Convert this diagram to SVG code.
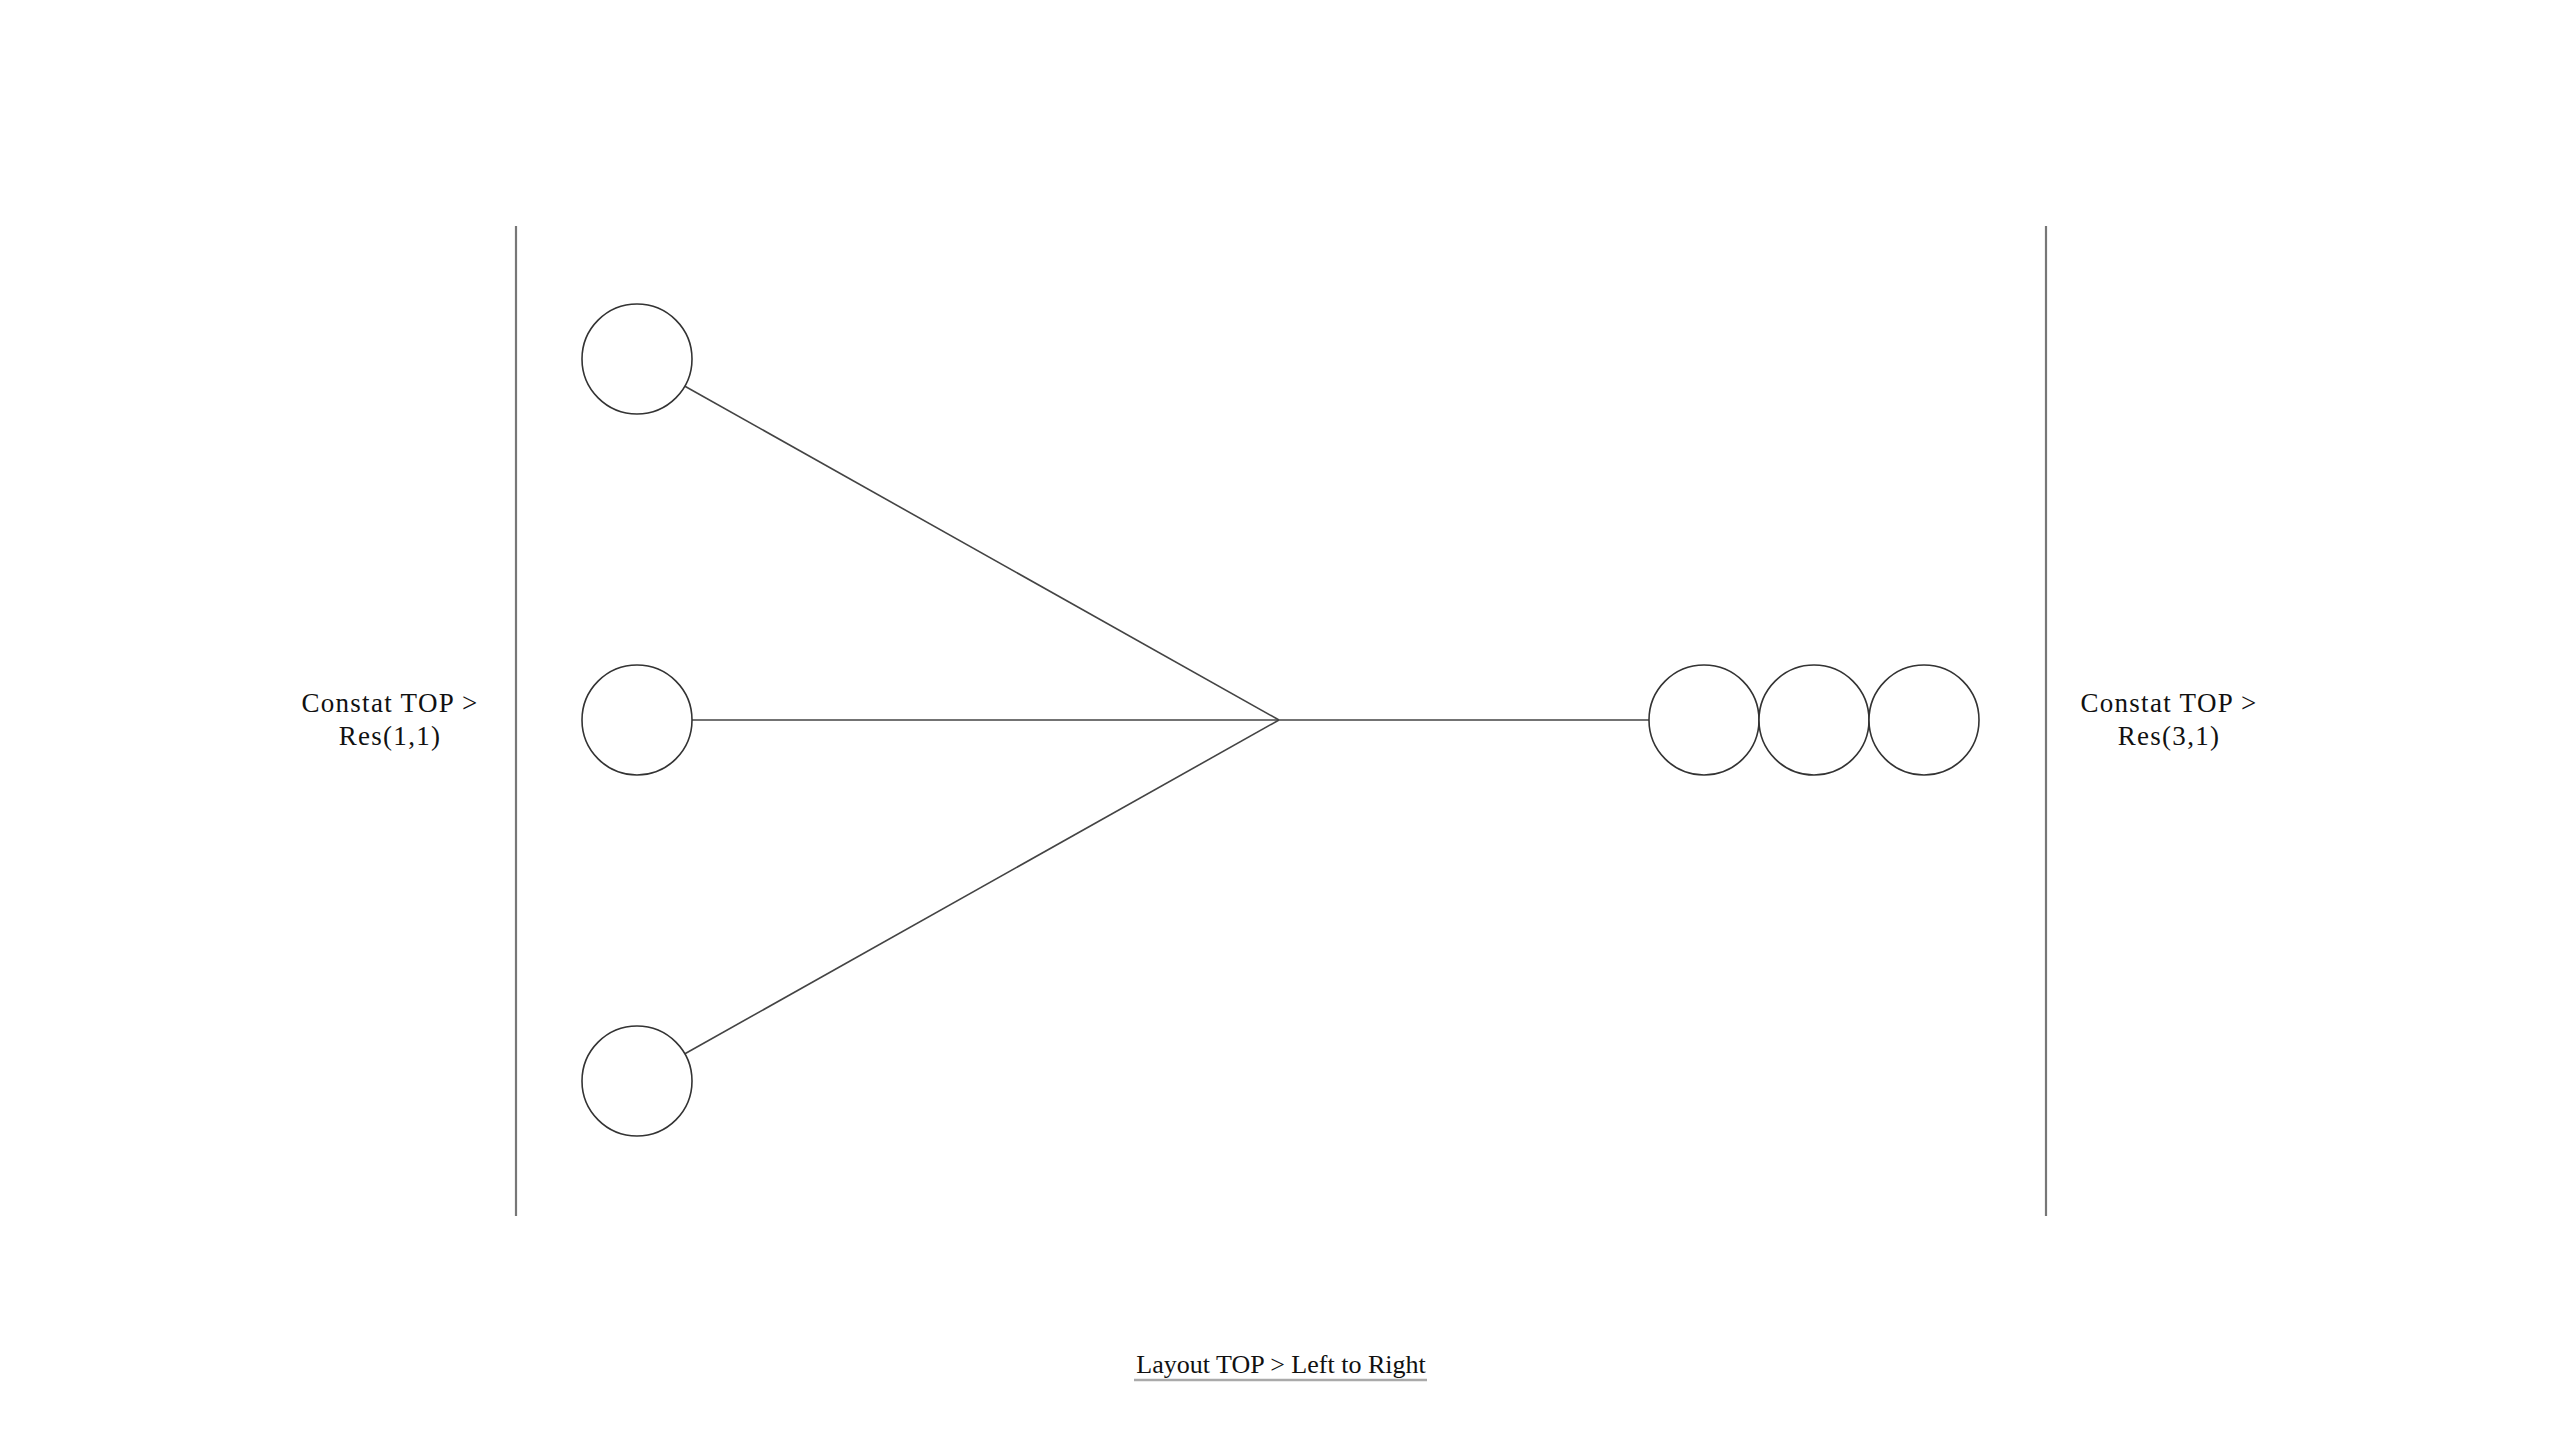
<svg xmlns="http://www.w3.org/2000/svg" width="2560" height="1440" viewBox="0 0 2560 1440">
<style>
.node{fill:#fff;stroke:#333;stroke-width:1.6}
.edge{stroke:#444;stroke-width:1.6;fill:none}
.bound{stroke:#777;stroke-width:2.2}
.lbl{font-family:"Liberation Serif",serif;font-size:27px;fill:#111;text-anchor:middle;letter-spacing:1.3px}
</style>
<rect width="2560" height="1440" fill="#fff"/>
<g id="boundaries">
<line class="bound" x1="516" y1="226" x2="516" y2="1216"/>
<line class="bound" x1="2046" y1="226" x2="2046" y2="1216"/>
</g>
<g id="connectors">
<line class="edge" x1="684.5" y1="386" x2="1279" y2="720"/>
<line class="edge" x1="692" y1="720" x2="1279" y2="720"/>
<line class="edge" x1="684.5" y1="1054" x2="1279" y2="720"/>
<line class="edge" x1="1279" y1="720" x2="1649" y2="720"/>
</g>
<g id="node-in-1"><circle class="node" cx="637" cy="359" r="55"/></g>
<g id="node-in-2"><circle class="node" cx="637" cy="720" r="55"/></g>
<g id="node-in-3"><circle class="node" cx="637" cy="1081" r="55"/></g>
<g id="node-out-1"><circle class="node" cx="1704" cy="720" r="55"/></g>
<g id="node-out-2"><circle class="node" cx="1814" cy="720" r="55"/></g>
<g id="node-out-3"><circle class="node" cx="1924" cy="720" r="55"/></g>
<g id="label-left">
<text class="lbl" x="390" y="712">Constat TOP &gt;</text>
<text class="lbl" x="390" y="745">Res(1,1)</text>
</g>
<g id="label-right">
<text class="lbl" x="2169" y="712">Constat TOP &gt;</text>
<text class="lbl" x="2169" y="745">Res(3,1)</text>
</g>
<g id="caption">
<text class="lbl" x="1281" y="1373" style="font-size:26px;letter-spacing:0px">Layout TOP &gt; Left to Right</text>
<line x1="1134" y1="1380" x2="1427" y2="1380" stroke="#aaa" stroke-width="2.5"/>
</g>
</svg>
